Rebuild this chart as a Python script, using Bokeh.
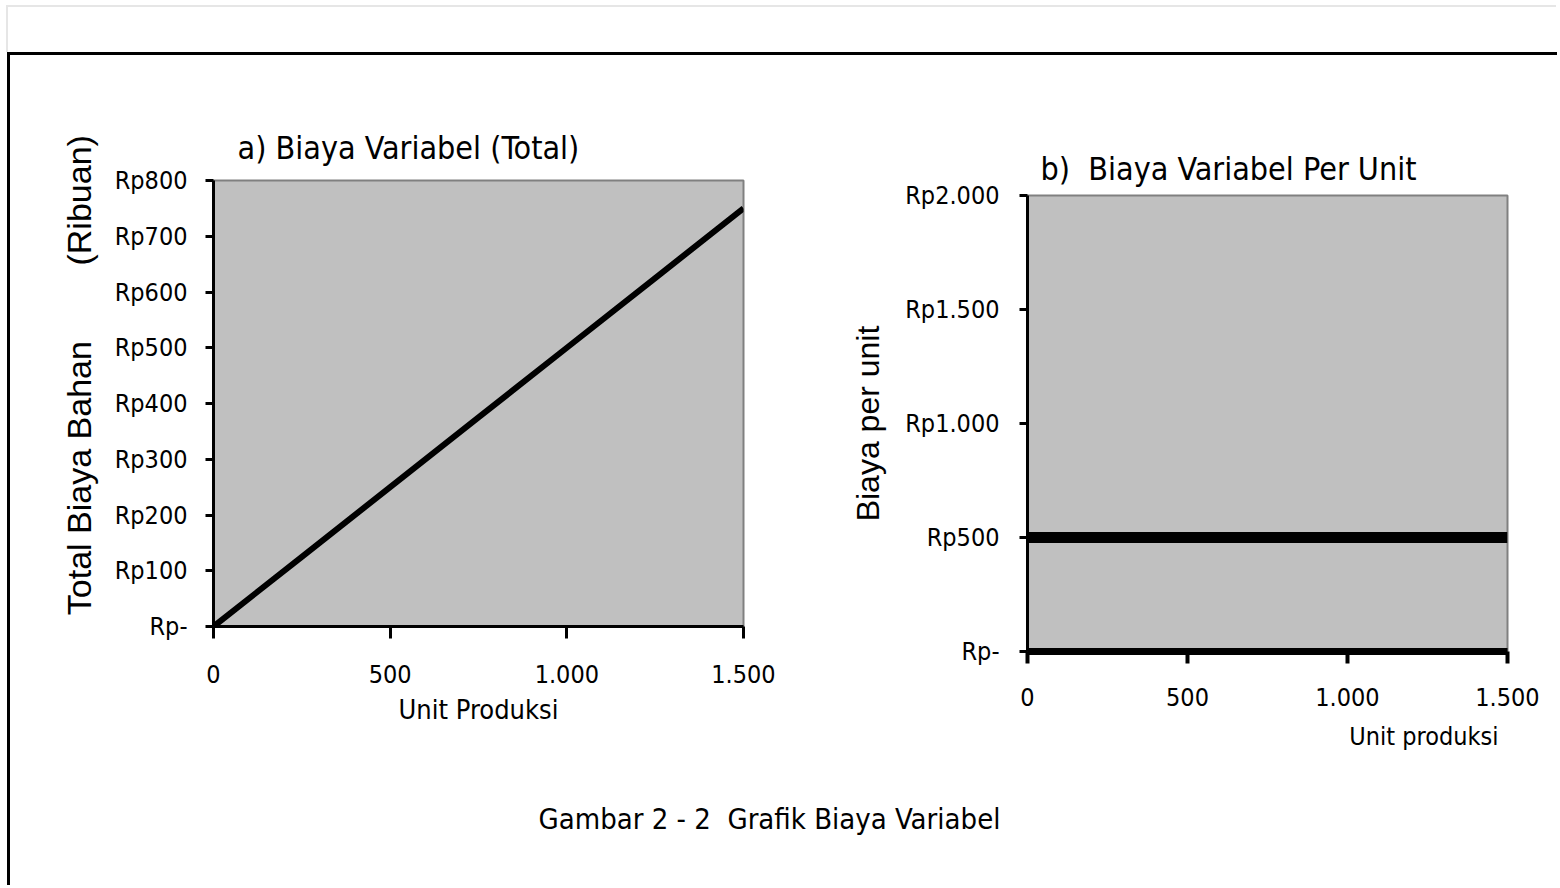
from bokeh.plotting import figure
from bokeh.layouts import row, column
from bokeh.models import FixedTicker, Range1d, Spacer, Title
from bokeh.embed import file_html
from bokeh.resources import INLINE

# ---- data ----
units = [0, 250, 500, 750, 1000, 1250, 1500]
total_cost = [0, 125, 250, 375, 500, 625, 750]          # Rp ribuan
unit_cost = [500, 500, 500, 500, 500, 500, 500]         # Rp per unit
x_ticks = [0, 500, 1000, 1500]
x_tick_labels = ["0", "500", "1.000", "1.500"]
ya_ticks = [0, 100, 200, 300, 400, 500, 600, 700, 800]
ya_tick_labels = ["Rp-", "Rp100", "Rp200", "Rp300", "Rp400", "Rp500", "Rp600", "Rp700", "Rp800"]
yb_ticks = [0, 500, 1000, 1500, 2000]
yb_tick_labels = ["Rp-", "Rp500", "Rp1.000", "Rp1.500", "Rp2.000"]

NARROW = "DejaVu Sans Condensed, Liberation Sans, sans-serif"
WIDE = "Liberation Sans"
NB = "\u00a0"


def style_common(p):
    p.background_fill_color = "#c0c0c0"
    p.border_fill_color = "white"
    p.outline_line_color = "#808080"
    p.outline_line_width = 2
    p.grid.visible = False
    p.title.text_font = NARROW
    p.title.text_font_size = "32px"
    p.title.text_font_style = "normal"
    p.title.text_color = "black"
    p.title.align = "left"
    for ax in p.axis:
        ax.minor_tick_line_color = None
        ax.major_tick_in = 0
        ax.major_tick_line_color = "black"
        ax.axis_line_color = "black"
        ax.major_label_text_font = NARROW
        ax.major_label_text_font_size = "25px"
        ax.major_label_text_color = "black"
        ax.axis_label_text_font_style = "normal"
        ax.axis_label_text_color = "black"


# ---- a) total ----
pa = figure(width=798, height=715, x_range=Range1d(0, 1500), y_range=Range1d(0, 800),
            min_border_left=203, min_border_right=65, min_border_top=125, min_border_bottom=144,
            output_backend="svg", toolbar_location=None, title="a) Biaya Variabel (Total)")
style_common(pa)
pa.title.offset = 24
pa.title.standoff = 27
pa.line(units, total_cost, line_color="black", line_width=6)

pa.xaxis.ticker = FixedTicker(ticks=x_ticks)
pa.xaxis.major_label_overrides = dict(zip(x_ticks, x_tick_labels))
pa.xaxis.major_tick_out = 12
pa.xaxis.major_tick_line_width = 3
pa.xaxis.axis_line_width = 3
pa.xaxis.major_label_standoff = 26
pa.xaxis.axis_label = "Unit Produksi"
pa.xaxis.axis_label_text_font = NARROW
pa.xaxis.axis_label_text_font_size = "27px"
pa.xaxis.axis_label_standoff = 8

pa.yaxis.ticker = FixedTicker(ticks=ya_ticks)
pa.yaxis.major_label_overrides = dict(zip(ya_ticks, ya_tick_labels))
pa.yaxis.major_tick_out = 8
pa.yaxis.major_tick_line_width = 3
pa.yaxis.axis_line_width = 3
pa.yaxis.major_label_standoff = 18
pa.yaxis.axis_label = NB * 6 + "Total Biaya Bahan" + NB * 8 + "(Ribuan)"
pa.yaxis.axis_label_text_font = WIDE
pa.yaxis.axis_label_text_font_size = "34px"
pa.yaxis.axis_label_standoff = 14

# ---- b) per unit ----
pb = figure(width=749, height=725, x_range=Range1d(0, 1500), y_range=Range1d(0, 2000),
            min_border_left=219, min_border_right=50, min_border_top=125, min_border_bottom=144,
            output_backend="svg", toolbar_location=None, title="b)" + NB + " Biaya Variabel Per Unit")
style_common(pb)
pb.title.offset = 13
pb.title.standoff = 16
pb.line(units, unit_cost, line_color="black", line_width=11)

pb.xaxis.ticker = FixedTicker(ticks=x_ticks)
pb.xaxis.major_label_overrides = dict(zip(x_ticks, x_tick_labels))
pb.xaxis.major_tick_out = 12
pb.xaxis.major_tick_line_width = 4
pb.xaxis.axis_line_width = 7
pb.xaxis.major_label_standoff = 24

# x-axis title, right-aligned under the axis end as in the original
xb_title = Title(text="Unit produksi", align="right", offset=9, standoff=22,
                 text_font=NARROW, text_font_size="25px", text_font_style="normal",
                 text_color="black")
pb.add_layout(xb_title, "below")

pb.yaxis.ticker = FixedTicker(ticks=yb_ticks)
pb.yaxis.major_label_overrides = dict(zip(yb_ticks, yb_tick_labels))
pb.yaxis.major_tick_out = 8
pb.yaxis.major_tick_line_width = 3
pb.yaxis.axis_line_width = 3
pb.yaxis.major_label_standoff = 20
pb.yaxis.axis_label = "Biaya per unit"
pb.yaxis.axis_label_text_font = WIDE
pb.yaxis.axis_label_text_font_size = "32px"
pb.yaxis.axis_label_standoff = 16

# ---- caption ----
pc = figure(width=1547, height=90, output_backend="svg", toolbar_location=None,
            min_border=0, min_border_top=40, title="Gambar 2 - 2" + NB + " Grafik Biaya Variabel")
pc.title.text_font = NARROW
pc.title.text_font_size = "29px"
pc.title.text_font_style = "normal"
pc.title.text_color = "black"
pc.title.align = "left"
pc.title.offset = 528
pc.title.standoff = 0
pc.axis.visible = False
pc.grid.visible = False
pc.outline_line_color = None
pc.background_fill_color = "white"
pc.border_fill_color = "white"

top = Spacer(width=1550, height=47, margin=(5, 0, 0, 6),
             styles={"border-top": "2px solid #e6e6e6", "border-left": "2px solid #e6e6e6",
                     "box-sizing": "border-box"})
col_b = column(Spacer(width=749, height=15), pb)
inner = column(row(pa, col_b), pc, margin=(0, 0, 0, 7),
               styles={"border-top": "3px solid black", "border-left": "3px solid black"})
layout = column(top, inner)

open("out.html", "w").write(file_html(layout, INLINE))
